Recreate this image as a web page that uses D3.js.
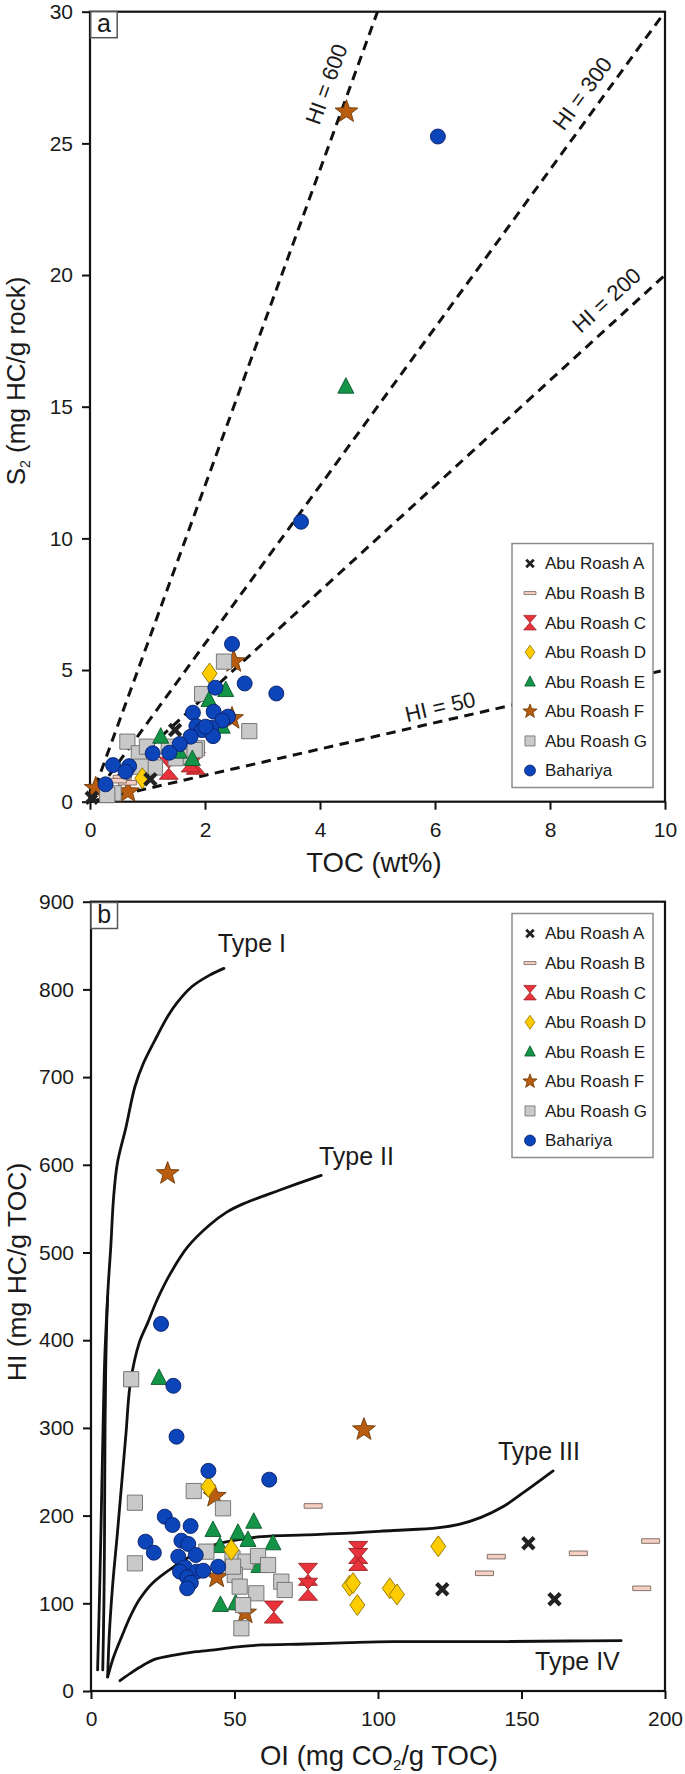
<!DOCTYPE html>
<html><head><meta charset="utf-8">
<script src="https://cdn.jsdelivr.net/npm/d3@7"></script>
<style>
body{margin:0;background:#fff}
text{font-family:"Liberation Sans",Arial,sans-serif;fill:#1a1a1a}
</style>
</head><body><script>
// ---------- DATA ----------
const series = ["Abu Roash A","Abu Roash B","Abu Roash C","Abu Roash D","Abu Roash E","Abu Roash F","Abu Roash G","Bahariya"];

// Panel a: [TOC (wt%), S2 (mg HC/g rock)]
const aAbuRoashA = [[1.48,2.72],[1.05,0.85],[0.03,0.15]];
const aAbuRoashB = [[0.56,0.92],[0.65,0.72],[0.48,0.80]];
const aAbuRoashC = [[1.84,1.46],[1.37,1.27],[1.75,1.55]];
const aAbuRoashD = [[2.08,4.87],[0.91,0.89]];
const aAbuRoashE = [[4.45,15.76],[2.36,4.24],[1.23,2.47],[1.78,1.62],[2.30,2.85],[2.07,3.86],[1.55,1.90]];
const aAbuRoashF = [[4.46,26.2],[2.50,5.32],[2.47,3.16],[0.66,0.38],[0.10,0.51]];
const aAbuRoashG = [[2.33,5.32],[2.77,2.68],[1.95,4.09],[0.65,2.28],[0.85,1.84],[1.13,1.30],[0.88,1.33],[0.41,0.32],[1.86,2.03],[1.66,1.71],[1.49,1.65],[1.37,2.09],[0.99,2.09],[0.30,0.25],[1.82,1.96]];
const aBahariya = [[6.05,25.26],[3.67,10.63],[2.47,5.99],[2.69,4.49],[3.24,4.11],[2.18,4.33],[1.79,3.38],[2.15,3.42],[2.40,3.23],[2.30,3.08],[1.85,2.87],[1.95,2.72],[2.11,2.81],[2.14,2.49],[1.75,2.47],[1.56,2.19],[1.38,1.86],[1.09,1.84],[0.68,1.35],[0.40,1.39],[0.62,1.14],[0.27,0.66],[2.01,2.85]];

// HI reference lines in panel a and their label anchors [TOC, S2]
const hiValues = [600,300,200,50];
const hiLabelAt = [[4.11,27.25],[8.56,26.9],[8.98,19.05],[6.09,3.61]];

// Panel b: [OI (mg CO2/g TOC), HI (mg HC/g TOC)]
const bAbuRoashA = [[152.4,168.4],[122.4,116],[161.5,104.6]];
const bAbuRoashB = [[77.4,211],[141.2,153.2],[137.1,134.2],[169.8,157],[195,171],[191.9,117.1]];
const bAbuRoashC = [[93.1,158],[93.1,150],[75.6,133],[75.6,116],[63.7,90]];
const bAbuRoashD = [[40.9,233],[48.9,161],[90.1,120],[91.3,123],[92.8,98],[104.1,117],[106.6,110],[121,165]];
const bAbuRoashE = [[23.7,357],[42.5,183.6],[51.2,180.5],[56.7,193],[54.7,172.2],[44.9,165.3],[63.4,168.4],[58.5,142.5],[45.1,98.1],[50.4,100]];
const bAbuRoashF = [[26.7,590],[95.1,298],[43.1,222],[43.8,130],[53.7,89]];
const bAbuRoashG = [[14.0,355.5],[15.3,214.7],[15.3,145.6],[35.8,228],[46.0,208.3],[40.2,158.9],[49.3,151.3],[53.9,147.5],[58.2,153.9],[61.7,143.7],[50.1,132.3],[51.8,119],[57.6,111.4],[66.3,124.7],[67.5,115.2],[53,98],[52.4,71.5],[49.5,141.8]];
const bBahariya = [[24.4,418.6],[28.7,348],[29.8,290],[40.9,251],[62.1,241],[25.7,198.8],[28.4,189.3],[34.7,188.1],[19.0,170.3],[21.9,157.7],[31.5,171.4],[33.9,167.6],[36.5,155.1],[30.4,153.2],[32.7,141],[31.0,136.1],[36.8,136.1],[39.1,137.2],[33.5,129.6],[34.8,123.5],[33.5,117.1],[44.3,141.8]];

// Kerogen type curves, panel b [OI, HI]
const typeIcurve = [[46.3,824],[41.2,816],[35.1,803],[29.8,784],[26.7,769],[22.9,746],[18.3,716],[15.3,689],[12.2,643],[9.2,602],[7.9,564],[6.9,507],[5.8,450],[5.2,380],[4.9,300],[4.7,172],[4.5,100],[4.1,24]];
const typeIbranch = [[5.8,450],[4.8,380],[4.2,300],[3.4,172],[2.9,100],[2.3,24]];
const typeIIcurve = [[80.2,588],[65.6,571],[53.4,556],[47.3,546],[41.2,531],[33.6,506],[27.5,475],[22.9,445],[19.8,420],[16.8,397],[13.7,351],[12.2,294],[10.7,237],[9.2,180],[7.6,123],[6.4,66],[5.8,16]];
const typeIIIcurve = [[161,251],[151,227],[143.5,210],[135.9,198],[128.2,190],[120.6,186],[105.3,183],[90,180],[74.8,178],[59.5,176],[50.4,172],[44.3,168],[36.6,157],[29,142],[21.4,123],[16.8,104],[13.7,85],[10.7,62],[7.9,39],[5.8,16]];
const typeIVcurve = [[10.1,11.8],[13.7,20.1],[18.3,29.6],[22.1,36.1],[29,41],[36.6,44.8],[44.3,47.5],[51.9,50.5],[59.5,52.5],[74.8,53.6],[90,55.1],[105.3,56.2],[135.9,56.2],[166.4,57],[184.7,57.4]];
const typeLabels = ["Type I","Type II","Type III","Type IV"];
const typeLabelAt = [[44.2,843],[79.4,600],[141.8,263],[154.7,24]];

const aTicksX = [0,2,4,6,8,10], aTicksY = [0,5,10,15,20,25,30];
const bTicksX = [0,50,100,150,200], bTicksY = [0,100,200,300,400,500,600,700,800,900];

// ---------- DRAW ----------
const svg = d3.select("body").append("svg").attr("width",685).attr("height",1774);

const styles = {
 "Abu Roash A":{shape:"x",fill:"#222",stroke:"none"},
 "Abu Roash B":{shape:"bar",fill:"#f5cfc1",stroke:"#77665f"},
 "Abu Roash C":{shape:"hour",fill:"#e8323c",stroke:"#9a2323"},
 "Abu Roash D":{shape:"diamond",fill:"#ffcc00",stroke:"#8f7300"},
 "Abu Roash E":{shape:"tri",fill:"#139447",stroke:"#0b5a2b"},
 "Abu Roash F":{shape:"star",fill:"#b85d0f",stroke:"#6b3806"},
 "Abu Roash G":{shape:"square",fill:"#c9c9c9",stroke:"#6c6c6c"},
 "Bahariya":{shape:"circle",fill:"#0b45b9",stroke:"#0a1f66"}
};
function starPath(R,r){let p=[];for(let i=0;i<10;i++){const a=-Math.PI/2+i*Math.PI/5;const rr=i%2?r:R;p.push([rr*Math.cos(a),rr*Math.sin(a)]);}return "M"+p.map(d=>d.join(",")).join("L")+"Z";}
function shapePath(shape,s){
 switch(shape){
  case "circle": {const r=7.5*s;return `M${r},0A${r},${r} 0 1,1 ${-r},0A${r},${r} 0 1,1 ${r},0Z`;}
  case "square": {const h=7.6*s;return `M${-h},${-h}H${h}V${h}H${-h}Z`;}
  case "tri": {const w=8*s;return `M0,${-9*s}L${w},${6.5*s}L${-w},${6.5*s}Z`;}
  case "star": return starPath(12*s,5*s);
  case "diamond": return `M0,${-10.5*s}L${7.5*s},0L0,${10.5*s}L${-7.5*s},0Z`;
  case "hour": {const w=9.5*s,h=11*s;return `M${-w},${-h}L${w},${-h}L${-w},${h}L${w},${h}Z`;}
  case "bar": {const w=9*s,h=2.3*s;return `M${-w},${-h}H${w}V${h}H${-w}Z`;}
  case "x": {const a=7.2*s,t=3*s;
    return `M${-a},${-a+t}L${-a+t},${-a}L0,${-t}L${a-t},${-a}L${a},${-a+t}L${t},0L${a},${a-t}L${a-t},${a}L0,${t}L${-a+t},${a}L${-a},${a-t}L${-t},0Z`;}
 }
}
function drawMarkers(g,name,data,x,y){
 const st=styles[name];
 g.append("g").selectAll("path").data(data).join("path")
  .attr("d",shapePath(st.shape,1))
  .attr("transform",d=>`translate(${x(d[0])},${y(d[1])})`)
  .attr("fill",st.fill).attr("stroke",st.stroke).attr("stroke-width",0.9);
}
function styleAxis(g){
 g.select(".domain").remove();
 g.selectAll(".tick line").attr("stroke","#111").attr("stroke-width",2);
 g.selectAll(".tick text").attr("font-size",21).attr("fill","#1a1a1a").style("font-family","'Liberation Sans',Arial,sans-serif");
}
function drawLegend(top){
 const g=svg.append("g");
 g.append("rect").attr("x",512).attr("y",top).attr("width",141).attr("height",244)
  .attr("fill","#fff").attr("stroke","#8c8c8c").attr("stroke-width",1.5);
 const ly=d3.scalePoint().domain(series).range([top+20,top+227]);
 series.forEach(n=>{
  const st=styles[n];
  g.append("path").attr("d",shapePath(st.shape,st.shape==="circle"?0.73:st.shape==="star"?0.62:0.66))
   .attr("transform",`translate(530,${ly(n)})`).attr("fill",st.fill).attr("stroke",st.stroke).attr("stroke-width",0.8);
  g.append("text").attr("x",545).attr("y",ly(n)).attr("dy","0.35em").attr("font-size",17).text(n);
 });
}
function panelLabel(x,y,t){
 svg.append("rect").attr("x",x).attr("y",y).attr("width",26.5).attr("height",26).attr("fill","#fff").attr("stroke","#555").attr("stroke-width",1.5);
 svg.append("text").attr("x",x+13.2).attr("y",y+20.5).attr("text-anchor","middle").attr("font-size",25).text(t);
}

// ===== Panel a =====
const xA=d3.scaleLinear().domain([0,10]).range([90,665]);
const yA=d3.scaleLinear().domain([0,30]).range([801.7,11.7]);
const gA=svg.append("g");
gA.append("g").attr("transform","translate(0,801.7)").call(d3.axisBottom(xA).tickValues(aTicksX).tickSize(8).tickPadding(12).tickSizeOuter(0)).call(styleAxis);
gA.append("g").attr("transform","translate(90,0)").call(d3.axisLeft(yA).tickValues(aTicksY).tickSize(8).tickPadding(9).tickSizeOuter(0)).call(styleAxis);

hiValues.forEach((hi,i)=>{
 const m=hi/100, xEnd=Math.min(10,30/m);
 gA.append("line").attr("x1",xA(0)).attr("y1",yA(0)).attr("x2",xA(xEnd)).attr("y2",yA(m*xEnd))
  .attr("stroke","#111").attr("stroke-width",3).attr("stroke-dasharray","9.5,6.5");
 const ang=Math.atan2(yA(m)-yA(0),xA(1)-xA(0))*180/Math.PI;
 const p=hiLabelAt[i];
 gA.append("text").attr("transform",`translate(${xA(p[0])},${yA(p[1])}) rotate(${ang})`)
  .attr("text-anchor","middle").attr("dy","0.35em").attr("font-size",22).text(`HI = ${hi}`);
});
gA.append("rect").attr("x",90).attr("y",11.7).attr("width",575).attr("height",790).attr("fill","none").attr("stroke","#111").attr("stroke-width",2.2);

const aSets={"Abu Roash C":aAbuRoashC,"Abu Roash F":aAbuRoashF,"Abu Roash G":aAbuRoashG,"Abu Roash E":aAbuRoashE,"Abu Roash D":aAbuRoashD,"Abu Roash B":aAbuRoashB,"Abu Roash A":aAbuRoashA,"Bahariya":aBahariya};
Object.keys(aSets).forEach(n=>drawMarkers(gA,n,aSets[n],xA,yA));
drawLegend(543.5);
panelLabel(90.7,11.7,"a");

svg.append("text").attr("x",374).attr("y",872).attr("text-anchor","middle").attr("font-size",27.5).text("TOC (wt%)");
const tA=svg.append("text").attr("transform","translate(24.5,381) rotate(-90)").attr("text-anchor","middle").attr("font-size",26);
tA.append("tspan").text("S");
tA.append("tspan").attr("font-size",14).attr("dy",5).text("2");
tA.append("tspan").attr("dy",-5).text(" (mg HC/g rock)");

// ===== Panel b =====
const xB=d3.scaleLinear().domain([0,200]).range([91,665]);
const yB=d3.scaleLinear().domain([0,900]).range([1691,901.7]);
const gB=svg.append("g");
gB.append("g").attr("transform","translate(0,1691)").call(d3.axisBottom(xB).tickValues(bTicksX).tickSize(8).tickPadding(12).tickSizeOuter(0)).call(styleAxis);
gB.append("g").attr("transform","translate(91,0)").call(d3.axisLeft(yB).tickValues(bTicksY).tickSize(8).tickPadding(9).tickSizeOuter(0)).call(styleAxis);

const curve=d3.line().x(d=>xB(d[0])).y(d=>yB(d[1])).curve(d3.curveCatmullRom.alpha(0.5));
[typeIcurve,typeIbranch,typeIIcurve,typeIIIcurve,typeIVcurve].forEach(c=>{
 gB.append("path").attr("d",curve(c)).attr("fill","none").attr("stroke","#111").attr("stroke-width",2.8).attr("stroke-linecap","round");
});
typeLabels.forEach((t,i)=>{
 gB.append("text").attr("x",xB(typeLabelAt[i][0])).attr("y",yB(typeLabelAt[i][1])).attr("font-size",25).text(t);
});
gB.append("rect").attr("x",91).attr("y",901.7).attr("width",574).attr("height",789.3).attr("fill","none").attr("stroke","#111").attr("stroke-width",2.2);

const bSets={"Abu Roash C":bAbuRoashC,"Abu Roash F":bAbuRoashF,"Abu Roash E":bAbuRoashE,"Abu Roash G":bAbuRoashG,"Abu Roash D":bAbuRoashD,"Abu Roash B":bAbuRoashB,"Abu Roash A":bAbuRoashA,"Bahariya":bBahariya};
Object.keys(bSets).forEach(n=>drawMarkers(gB,n,bSets[n],xB,yB));
drawLegend(913.5);
panelLabel(91,902.5,"b");

const tBx=svg.append("text").attr("x",379).attr("y",1765).attr("text-anchor","middle").attr("font-size",27.5);
tBx.append("tspan").text("OI (mg CO");
tBx.append("tspan").attr("font-size",15).attr("dy",5).text("2");
tBx.append("tspan").attr("dy",-5).text("/g TOC)");
svg.append("text").attr("transform","translate(25.5,1272) rotate(-90)").attr("text-anchor","middle").attr("font-size",26.5).text("HI (mg HC/g TOC)");
</script></body></html>
